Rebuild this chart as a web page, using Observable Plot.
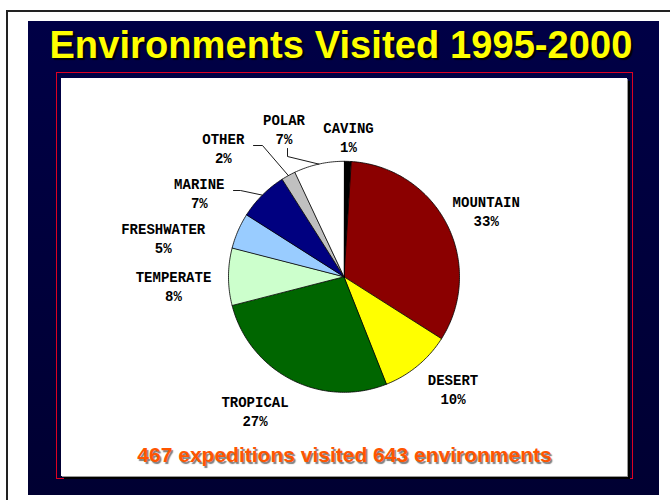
<!DOCTYPE html>
<html>
<head>
<meta charset="utf-8">
<script src="https://cdn.jsdelivr.net/npm/d3@7"></script>
<script src="https://cdn.jsdelivr.net/npm/@observablehq/plot@0.6"></script>
<style>
  html, body { margin: 0; padding: 0; background: #ffffff; }
  #page { position: relative; width: 670px; height: 500px; overflow: hidden; background: #ffffff; }
  #edge { position: absolute; left: 6px; top: 10px; width: 700px; height: 600px;
          border-top: 2px solid #222; border-left: 2px solid #222; }
  #navy { position: absolute; left: 28px; top: 21px; width: 631px; height: 474px;
          background: linear-gradient(#000046, #000032); }
  #title { position: absolute; left: 0; width: 682px; top: 26px; text-align: center;
           font: bold 38px/38px "Liberation Sans", Arial, sans-serif; color: #ffff00;
           letter-spacing: 0.1px;
           text-shadow: 2px 2px 1px rgba(0,0,0,0.9); white-space: nowrap; }
  #frame { position: absolute; left: 56px; top: 72px; width: 575px; height: 405px;
           border: 1.5px solid #dd0022; }
  #panel { position: absolute; left: 61px; top: 78px; width: 566px; height: 398px;
           background: #ffffff; box-shadow: 1px 1px 0 #999, 3px 3px 0 #000; }
  #chart { position: absolute; left: 61px; top: 78px; }
  #caption { position: absolute; left: 0; width: 689px; top: 444px; text-align: center;
             font: bold 21px/21px "Liberation Sans", Arial, sans-serif; color: #ff5500;
             text-shadow: 1.5px 1.5px 1px rgba(0,0,0,0.5); white-space: nowrap; }
</style>
</head>
<body>
<div id="page">
  <div id="edge"></div>
  <div id="navy"></div>
  <div id="title">Environments Visited 1995-2000</div>
  <div id="frame"></div>
  <div id="panel"></div>
  <div id="chart"></div>
  <div id="caption">467 expeditions visited 643 environments</div>
</div>
<script>
// ---- data ----
const categories = ["CAVING", "MOUNTAIN", "DESERT", "TROPICAL", "TEMPERATE", "FRESHWATER", "MARINE", "OTHER", "POLAR"];
const percents   = [1, 33, 10, 27, 8, 5, 7, 2, 7];
const colors     = ["#000000", "#8b0000", "#ffff00", "#006600", "#ccffcc", "#99ccff", "#000080", "#c0c0c0", "#ffffff"];

// ---- layout (chart units, origin at pie centre, y up) ----
const radius = 115.5;
const labelOffsets = [
  [4.5, 140.1], [142.2, 66.6], [109, -111.4], [-89, -133.9], [-170.5, -8.7],
  [-180.8, 39.1], [-144.7, 84.6], [-120.7, 129.6], [-60, 148]
];
const leaderElbows = {
  MARINE: [[-110.5, 86.3], [-103.5, 86.3]],
  OTHER:  [[-90.5, 131.3], [-81.5, 131.3]],
  POLAR:  [[-56.5, 128.3], [-56.5, 120.3]]
};

// ---- build wedges ----
const total = d3.sum(percents);
const wedges = [];
const labels = [];
const leaders = [];
let cum = 0;
categories.forEach((name, i) => {
  const a0 = cum / total * 2 * Math.PI;
  cum += percents[i];
  const a1 = cum / total * 2 * Math.PI;
  const n = Math.max(2, Math.ceil((a1 - a0) / (Math.PI / 180)));
  wedges.push({name, color: colors[i], x: 0, y: 0});
  for (let k = 0; k <= n; k++) {
    const a = a0 + (a1 - a0) * k / n;
    wedges.push({name, color: colors[i], x: radius * Math.sin(a), y: radius * Math.cos(a)});
  }
  labels.push({text: `${name}\n${percents[i]}%`, x: labelOffsets[i][0], y: labelOffsets[i][1]});
  if (leaderElbows[name]) {
    const am = (a0 + a1) / 2;
    leaderElbows[name].forEach(([x, y]) => leaders.push({name, x, y}));
    leaders.push({name, x: radius * Math.sin(am), y: radius * Math.cos(am)});
  }
});

const chart = Plot.plot({
  width: 566,
  height: 398,
  margin: 0,
  style: {background: "transparent", overflow: "visible"},
  x: {domain: [-282.5, 283.5], axis: null},
  y: {domain: [-199.7, 198.3], axis: null},
  color: {type: "identity"},
  marks: [
    Plot.line(wedges, {x: "x", y: "y", z: "name", fill: "color", stroke: "#000", strokeWidth: 0.8,
                       curve: "linear-closed", strokeLinejoin: "round"}),
    Plot.line(leaders, {x: "x", y: "y", z: "name", stroke: "#000", strokeWidth: 0.9}),
    Plot.text(labels, {x: "x", y: "y", text: "text", fontFamily: "Liberation Mono, monospace",
                       fontWeight: "bold", fontSize: 14, lineHeight: 1.36, fill: "#000",
                       textAnchor: "middle", lineAnchor: "middle"})
  ]
});
document.getElementById("chart").appendChild(chart);
</script>
</body>
</html>
